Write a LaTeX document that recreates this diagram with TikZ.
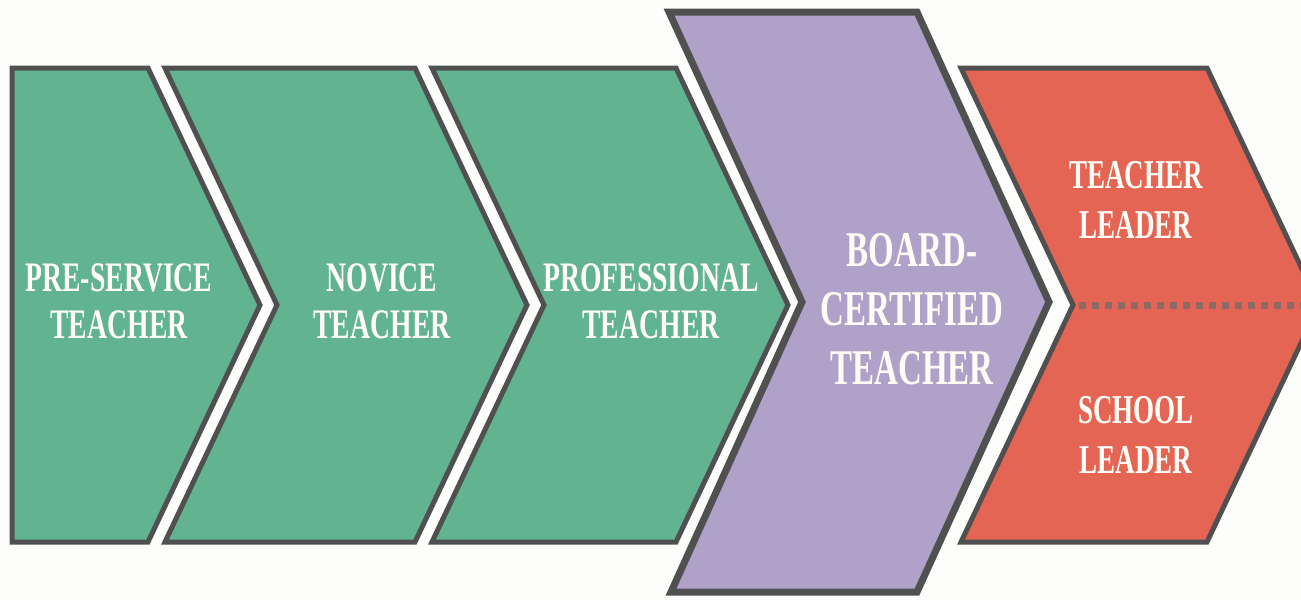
\documentclass[tikz,border=0pt]{standalone}
\usepackage{fontspec}
\newfontfamily\lab[FakeStretch=0.66]{Liberation Serif}
\definecolor{gfill}{HTML}{62B491}
\definecolor{pfill}{HTML}{B0A1C8}
\definecolor{rfill}{HTML}{E46554}
\definecolor{edge}{HTML}{505050}
\definecolor{dotc}{HTML}{8E6A65}
\definecolor{bg}{HTML}{FDFDFB}
\definecolor{txt}{HTML}{FFFDF6}
\tikzset{
  stage/.style={draw=edge, line width=5pt, line join=miter},
  label/.style={text=txt, align=center, inner sep=0pt},
  lab42/.style={label, font=\lab\bfseries\fontsize{42}{47}\selectfont},
  lab50/.style={label, font=\lab\bfseries\fontsize{50}{59}\selectfont},
  lab41/.style={label, font=\lab\bfseries\fontsize{41}{50}\selectfont},
}
\begin{document}
\begin{tikzpicture}[x=1pt,y=-1pt]
\fill[bg] (0,0) rectangle (1301,600);
\useasboundingbox (0,0) rectangle (1301,600);
\clip (0,0) rectangle (1301,600);
% green stages
\draw[stage, fill=gfill] (12,68) -- (148,68) -- (260,305) -- (148,542) -- (12,542) -- cycle;
\draw[stage, fill=gfill] (165,68) -- (415,68) -- (527,305) -- (415,542) -- (165,542) -- (277,305) -- cycle;
\draw[stage, fill=gfill] (432,68) -- (676,68) -- (788,305) -- (676,542) -- (432,542) -- (544,305) -- cycle;
% purple
\draw[stage, line width=7pt, fill=pfill] (669,12) -- (917,12) -- (1049,302) -- (917,592) -- (671,592) -- (802,302) -- cycle;
% red
\draw[stage, fill=rfill] (961,68) -- (1207,68) -- (1319,305) -- (1207,542) -- (961,542) -- (1073,305) -- cycle;
\coordinate (dl) at (1079,305);
\coordinate (dr) at (1305,305);
\draw[dotc, line width=7pt, dash pattern=on 7pt off 6pt] (dl) -- (dr);
% labels
\node[lab42] (pre) at (119,301) {PRE-SERVICE\\TEACHER};
\node[lab42] (nov) at (382,301) {NOVICE\\TEACHER};
\node[lab42] (pro) at (651,301) {PROFESSIONAL\\TEACHER};
\node[lab50] (brd) at (912,309) {BOARD-\\CERTIFIED\\TEACHER};
\node[lab41] (tl) at (1136,200) {TEACHER\\LEADER};
\node[lab41] (sl) at (1136,435) {SCHOOL\\LEADER};
\end{tikzpicture}
\end{document}
